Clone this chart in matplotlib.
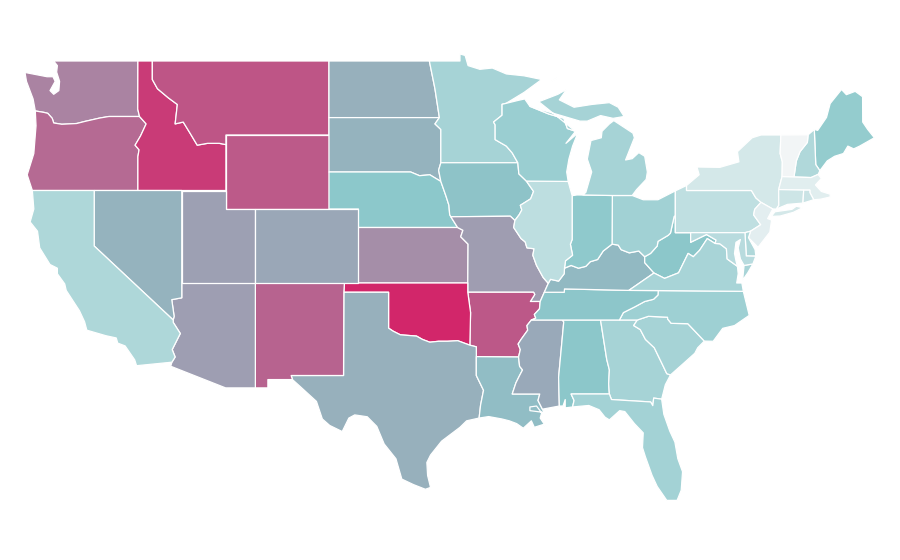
import matplotlib
matplotlib.use("Agg")
import matplotlib.pyplot as plt
from matplotlib.colors import LinearSegmentedColormap, Normalize

# ---- data: rate per state ----
states = ["WA","OR","ID","MT","WY","ND","SD","NE","KS","MN","IA","MO","AR","OK","TX","NM","AZ","UT","CO","NV","CA",
          "LA","MS","AL","GA","FL","SC","NC","TN","KY","WV","VA","OH","IN","IL","WI","MI","PA","NY","ME","NH","VT",
          "MA","CT","RI","NJ","DE","MD"]
values = [65.6,74.8,91.9,82.6,80.7,49,47.8,40,61.5,29.8,42,56,81.5,100,49,77,55.6,55,52,48,26.7,
          44,51.5,40.5,30,31,30,33,41,45.5,40.5,29,32,39,21,34.5,30,20,12,37,26,0,
          7,14.5,16,6,26,23]

# ---- boundaries (lon, lat), shared borders ----
stcroix = [(-92.02,46.71),(-92.29,46.66),(-92.29,46.07),(-92.87,45.70),(-92.76,45.55),(-92.76,44.75),(-92.0,44.40),(-91.6,44.03),(-91.22,43.50)]
ia_wi = [(-91.22,43.50),(-91.15,42.9),(-90.64,42.51)]
ia_il = [(-90.64,42.51),(-90.15,41.95),(-90.35,41.55),(-91.05,41.2),(-90.95,40.95),(-91.12,40.70),(-91.42,40.38)]
mo_il = [(-91.42,40.38),(-91.5,40.0),(-91.0,39.4),(-90.72,39.22),(-90.6,38.9),(-90.12,38.85),(-90.2,38.5),(-89.95,37.95),(-89.5,37.3),(-89.15,36.98)]
ar_east = [(-89.7,36.0),(-89.75,35.6),(-90.1,35.3),(-90.0,35.1),(-90.3,35.0)]
ar_ms = [(-90.3,35.0),(-90.6,34.7),(-90.55,34.45),(-91.0,33.95),(-91.2,33.7),(-91.05,33.4),(-91.17,33.0)]
la_ms = [(-91.17,33.0),(-91.1,32.5),(-90.9,32.3),(-91.1,32.0),(-91.35,31.6),(-91.6,31.0),(-89.73,31.0),(-89.85,30.65),(-89.55,30.18)]
boot = [(-89.42,36.5),(-89.7,36.0),(-90.37,36.0),(-90.07,36.38),(-90.15,36.5)]
il_ky = [(-89.15,36.98),(-89.0,37.2),(-88.45,37.1),(-88.07,37.5),(-88.05,37.8)]
in_ky = [(-88.05,37.8),(-87.6,37.95),(-87.1,37.8),(-86.6,37.9),(-86.3,38.15),(-85.8,38.27),(-85.42,38.73),(-84.82,39.1)]
oh_ky = [(-84.82,39.1),(-84.4,39.05),(-84.2,38.8),(-83.65,38.63),(-83.0,38.73),(-82.6,38.42)]
oh_wv = [(-82.6,38.42),(-82.2,38.6),(-81.75,39.0),(-81.7,39.25),(-81.0,39.58),(-80.85,39.7),(-80.6,40.6),(-80.52,40.64)]
il_in = [(-87.53,41.72),(-87.53,39.35),(-87.65,39.1),(-87.5,38.5),(-87.98,38.2),(-88.05,37.8)]
wa_or = [(-124.0,46.3),(-123.4,46.22),(-123.15,46.17),(-122.85,45.9),(-122.75,45.65),(-122.2,45.58),(-121.2,45.62),(-120.6,45.74),(-119.6,45.92),(-119.0,46.0),(-116.92,46.0)]
id_or = [(-116.92,46.0),(-116.47,45.6),(-116.85,44.95),(-117.22,44.45),(-116.95,44.2),(-117.03,43.83),(-117.03,42)]
id_mt = [(-116.05,49),(-116.05,48.0),(-115.7,47.5),(-114.95,47.0),(-114.35,46.65),(-114.5,45.6),(-113.95,45.7),(-113.45,45.05),(-113.0,44.45),(-112.3,44.55),(-111.5,44.55),(-111.05,44.48)]
ok_tx = [(-100,34.56),(-99.7,34.4),(-99.2,34.2),(-98.1,34.13),(-97.7,33.95),(-97.2,33.8),(-96.6,33.85),(-96.0,33.85),(-95.3,33.88),(-94.48,33.64)]
la_tx = [(-94.04,33.02),(-94.04,32),(-93.55,31.2),(-93.75,30.4),(-93.85,29.7)]
ne_ia = [(-96.45,42.49),(-96.1,41.7),(-95.9,41.2),(-95.85,40.7),(-95.77,40.58)]
ne_mo_ks = [(-95.77,40.58),(-95.31,40),(-94.95,39.85),(-95.1,39.5),(-94.6,39.1),(-94.62,37)]
sd_mn = [(-96.55,45.94),(-96.85,45.6),(-96.45,45.3),(-96.45,43.5)]
ga_sc = [(-83.1,35),(-83.35,34.7),(-82.9,34.48),(-82.55,33.95),(-81.95,33.5),(-81.4,32.6),(-81.1,32.1),(-80.85,32.03)]
nc_sc = [(-83.1,35),(-82.35,35.2),(-81.05,35.15),(-81.04,35.05),(-80.8,34.82),(-79.67,34.8),(-78.55,33.86)]
nc_tn = [(-81.68,36.59),(-81.7,36.35),(-82.0,36.12),(-82.6,36.0),(-83.25,35.72),(-84.05,35.4),(-84.32,35)]
ga_al = [(-85.6,35),(-85.18,32.87),(-85.0,32.3),(-85.05,31.55),(-85.0,31)]
ga_fl = [(-85.0,31),(-84.86,30.7),(-82.2,30.57),(-82.05,30.37),(-81.99,30.78),(-81.45,30.72)]
wv_va = [(-81.97,37.54),(-81.25,37.25),(-80.3,37.55),(-79.65,38.6),(-79.3,38.42),(-78.87,38.77),(-78.35,39.4),(-77.83,39.14)]
md_wv = [(-77.83,39.14),(-77.75,39.32),(-78.4,39.62),(-79.48,39.2),(-79.48,39.72)]
md_va = [(-76.3,37.9),(-77.0,38.3),(-77.05,38.85),(-77.5,39.12),(-77.83,39.14)]
pa_nj = [(-74.7,41.36),(-75.13,40.98),(-75.2,40.68),(-74.72,40.15),(-75.41,39.8)]
ny_pa = [(-79.76,42),(-75.35,42),(-75.05,41.6),(-74.7,41.36)]
vt_nh = [(-71.5,45.01),(-71.55,44.6),(-72.05,44.1),(-72.3,43.6),(-72.46,42.73)]
ny_vt = [(-73.35,45.0),(-73.4,44.0),(-73.25,43.55),(-73.27,42.75)]
mi_wi = [(-90.4,46.55),(-89.1,46.13),(-88.1,45.9),(-87.85,45.35),(-87.3,45.2)]
rev = lambda s: s[::-1]

shapes = {
 "WA": [[(-117.03,49),(-122.75,49),(-122.5,48.75),(-122.55,48.4),(-122.35,47.9),(-122.4,47.4),(-122.75,47.2),(-123.0,47.4),(-122.65,47.9),(-122.8,48.15),(-123.2,48.15),(-124.7,48.38),(-124.6,47.9),(-124.15,46.95)]+wa_or+[(-117.04,46.4)]],
 "OR": [wa_or+id_or[1:]+[(-124.2,42),(-124.55,42.85),(-124.1,44),(-123.95,45.5)]],
 "ID": [[(-117.03,49)]+id_mt+[(-111.05,42)]+rev(id_or)+[(-117.04,46.4)]],
 "MT": [id_mt+[(-111.05,45),(-104.05,45),(-104.05,49)]],
 "WY": [[(-111.05,45),(-104.05,45),(-104.05,41),(-111.05,41)]],
 "ND": [[(-104.05,49),(-97.23,49),(-96.85,47.5),(-96.55,45.94),(-104.05,45.94)]],
 "SD": [[(-104.05,45.94)]+sd_mn+[(-96.6,43.1),(-96.45,42.49),(-97.2,42.85),(-97.9,42.8),(-98.5,43),(-104.05,43)]],
 "NE": [[(-104.05,43),(-98.5,43),(-97.9,42.8),(-97.2,42.85)]+ne_ia+[(-95.31,40),(-102.05,40),(-102.05,41),(-104.05,41)]],
 "KS": [[(-102.05,40)]+ne_mo_ks[1:]+[(-102.05,37)]],
 "MN": [[(-97.23,49),(-95.15,49),(-95.15,49.38),(-94.8,49.3),(-94.6,48.75),(-93.8,48.55),(-92.95,48.62),(-92.0,48.3),(-90.8,48.2),(-89.6,48.0),(-90.8,47.3)]+stcroix+rev(sd_mn)+[(-96.85,47.5)]],
 "IA": [[(-96.45,43.5)]+ia_wi+ia_il[1:]+[(-91.73,40.61)]+rev(ne_ia)+[(-96.6,43.1)]],
 "WI": [[(-92.02,46.71),(-91.2,46.87),(-90.75,46.95)]+mi_wi+[(-87.95,44.55),(-87.15,45.1),(-87.5,44.4),(-87.75,43.7),(-87.9,43.0),(-87.8,42.49)]+rev(ia_wi)+rev(stcroix)],
 "IL": [[(-90.64,42.51),(-87.8,42.49)]+il_in+rev(il_ky)[1:]+rev(mo_il)[1:]+rev(ia_il)[1:]],
 "MO": [[(-95.77,40.58),(-91.73,40.61)]+mo_il+boot+[(-94.62,36.5)]+rev(ne_mo_ks)[:-1]],
 "AR": [[(-94.62,36.5)]+rev(boot)[:-1]+ar_east[1:]+ar_ms[1:]+[(-94.04,33.02),(-94.04,33.55),(-94.48,33.64),(-94.43,35.4)]],
 "OK": [[(-103.0,37),(-94.62,37),(-94.62,36.5),(-94.43,35.4)]+rev(ok_tx)+[(-100,36.5),(-103.04,36.5)]],
 "TX": [[(-103.04,36.5),(-100,36.5)]+ok_tx+[(-94.04,33.55)]+la_tx+[(-94.7,29.55),(-95.15,29.2),(-96.4,28.45),(-97.15,27.7),(-97.4,27.3),(-97.35,26.6),(-97.15,25.95),(-97.5,25.85),(-98.3,26.1),(-99.1,26.4),(-99.5,27.5),(-100.3,28.3),(-100.8,29.25),(-101.45,29.77),(-102.3,29.87),(-102.7,29.7),(-103.15,28.97),(-104.0,29.3),(-104.5,29.65),(-104.9,30.6),(-106.0,31.4),(-106.53,31.78),(-106.62,32),(-103.06,32)]],
 "NM": [[(-109.05,37),(-103,37),(-103.04,36.5),(-103.06,32),(-106.62,32),(-106.53,31.78),(-108.2,31.78),(-108.2,31.33),(-109.05,31.33)]],
 "AZ": [[(-114.05,37),(-109.05,37),(-109.05,31.33),(-111.07,31.33),(-114.8,32.5),(-114.72,32.72),(-114.5,33.0),(-114.7,33.4),(-114.15,34.27),(-114.63,34.87),(-114.63,35.0),(-114.57,35.2),(-114.73,36.1),(-114.05,36.2)]],
 "NV": [[(-120,42),(-114.05,42),(-114.05,36.2),(-114.73,36.1),(-114.57,35.2),(-114.63,35.0),(-120,39)]],
 "UT": [[(-114.05,42),(-111.05,42),(-111.05,41),(-109.05,41),(-109.05,37),(-114.05,37)]],
 "CO": [[(-109.05,41),(-102.05,41),(-102.05,37),(-109.05,37)]],
 "CA": [[(-124.2,42),(-120,42),(-120,39),(-114.63,35),(-114.63,34.87),(-114.15,34.27),(-114.7,33.4),(-114.5,33),(-114.72,32.72),(-117.12,32.53),(-117.25,32.85),(-117.9,33.6),(-118.4,33.75),(-118.5,34.03),(-119.2,34.15),(-120.5,34.45),(-120.65,34.9),(-121.0,35.5),(-121.9,36.6),(-122.0,36.95),(-122.5,37.5),(-122.5,37.8),(-123.0,38.0),(-123.7,38.9),(-123.85,39.8),(-124.35,40.3),(-124.1,41)]],
 "LA": [la_ms+[(-89.45,30.0),(-89.9,30.05),(-90.4,30.1),(-90.4,30.3),(-89.95,30.35),(-89.6,29.98),(-89.7,29.7),(-89.2,29.1),(-89.5,29.35),(-90.1,29.2),(-90.3,29.55),(-90.85,29.15),(-91.3,29.4),(-91.8,29.55),(-92.3,29.65),(-93.2,29.78),(-93.85,29.7),(-93.75,30.4),(-93.55,31.2),(-94.04,32),(-94.04,33.02)]],
 "MS": [ar_ms+la_ms[1:]+[(-88.4,30.35),(-88.45,31.9),(-88.1,34.9),(-88.2,35)]],
 "AL": [[(-88.2,35)]+ga_al+[(-87.6,31),(-87.4,30.65),(-87.5,30.3),(-88.0,30.25),(-88.0,30.7),(-88.15,30.35),(-88.4,30.35),(-88.45,31.9),(-88.1,34.9)]],
 "GA": [ga_al+ga_fl[1:]+[(-81.2,31.5)]+rev(ga_sc)],
 "FL": [[(-87.6,31)]+ga_fl+[(-81.3,29.9),(-80.9,29.0),(-80.55,28.4),(-80.35,27.5),(-80.03,26.8),(-80.12,25.8),(-80.4,25.25),(-81.1,25.25),(-81.75,26.0),(-82.1,26.6),(-82.55,27.6),(-82.75,28.1),(-82.7,28.9),(-83.3,29.4),(-83.95,30.05),(-84.3,30.1),(-85.0,29.6),(-85.3,29.75),(-85.7,30.15),(-86.4,30.38),(-87.5,30.3),(-87.4,30.65)]],
 "SC": [nc_sc+[(-79.0,33.5),(-79.2,33.2),(-79.9,32.7)]+rev(ga_sc)],
 "NC": [nc_tn+[(-83.1,35)]+nc_sc[1:]+[(-77.95,33.85),(-77.3,34.55),(-76.5,34.7),(-75.5,35.25),(-75.9,36.55)]],
 "TN": [[(-89.42,36.5),(-88.07,36.5),(-88.05,36.68),(-83.68,36.6)]+nc_tn+[(-85.6,35),(-88.2,35)]+rev(ar_east)],
 "KY": [il_ky+in_ky[1:]+oh_ky[1:]+[(-82.6,38.1),(-81.97,37.54),(-83.68,36.6),(-88.05,36.68),(-88.07,36.5),(-89.42,36.5)]],
 "VA": [[(-83.68,36.6),(-81.68,36.59),(-75.9,36.55),(-76.0,37.0),(-76.35,37.0),(-76.25,37.5)]+md_va+rev(wv_va)[1:],
        [(-75.95,37.15),(-75.85,37.95),(-75.25,38.03),(-75.6,37.55)]],
 "WV": [oh_wv+[(-80.52,39.72),(-79.48,39.72)]+rev(md_wv)[1:]+rev(wv_va)[1:]+[(-82.6,38.1)]],
 "MD": [[(-79.48,39.72),(-75.79,39.72),(-75.7,38.46),(-75.05,38.45),(-75.25,38.03),(-75.85,37.95),(-76.1,38.3),(-76.25,38.9),(-76.1,39.35),(-76.4,39.2),(-76.5,38.6),(-76.4,38.2)]+md_va+md_wv[1:-1]],
 "DE": [[(-75.79,39.72),(-75.41,39.8),(-75.55,39.45),(-75.1,38.8),(-75.05,38.45),(-75.7,38.46)]],
 "PA": [[(-80.52,41.98),(-79.76,42.27)]+ny_pa+pa_nj[1:]+[(-75.79,39.72),(-80.52,39.72)]],
 "NJ": [pa_nj+[(-75.55,39.45),(-74.9,38.93),(-74.1,39.75),(-73.98,40.4),(-74.25,40.48),(-73.9,41.0)]],
 "NY": [ny_pa[::-1][:-1]+[(-79.76,42),(-79.76,42.27),(-78.9,42.85),(-79.05,43.27),(-77.5,43.25),(-76.2,43.55),(-76.3,44.1),(-75.3,44.85),(-74.7,45.0)]+ny_vt+[(-73.5,42.05),(-73.49,41.2),(-73.65,41.0),(-73.9,41.0)],
        [(-74.0,40.6),(-73.75,40.85),(-72.6,40.98),(-72.3,41.15),(-71.87,41.07),(-72.5,40.82),(-73.4,40.62)]],
 "VT": [ny_vt+rev(vt_nh)],
 "NH": [vt_nh+[(-71.3,42.7),(-70.82,42.87),(-70.7,43.07),(-70.98,43.4),(-71.08,45.3)]],
 "ME": [[(-71.08,45.3),(-70.85,45.25),(-70.25,45.95),(-70.0,46.7),(-69.23,47.46),(-68.9,47.18),(-68.3,47.36),(-67.8,47.07),(-67.79,45.7),(-67.45,45.3),(-67.0,44.85),(-68.0,44.4),(-68.4,44.25),(-68.8,44.4),(-69.1,44.0),(-69.7,43.85),(-70.2,43.6),(-70.7,43.07),(-70.98,43.4)]],
 "MA": [[(-73.5,42.05),(-73.27,42.75),(-72.46,42.73),(-71.3,42.7),(-70.82,42.87),(-70.6,42.65),(-71.0,42.3),(-70.6,41.95),(-70.0,41.8),(-70.0,41.65),(-70.65,41.53),(-71.12,41.5),(-71.38,41.89),(-71.38,42.02),(-71.8,42.02)]],
 "CT": [[(-73.5,42.05),(-71.8,42.02),(-71.85,41.32),(-72.9,41.25),(-73.65,41.0),(-73.49,41.2)]],
 "RI": [[(-71.8,42.02),(-71.38,42.02),(-71.38,41.89),(-71.12,41.5),(-71.85,41.32)]],
 "MI": [[(-86.8,41.76),(-84.8,41.73),(-83.45,41.73),(-83.15,42.05),(-82.5,42.6),(-82.42,43.0),(-82.6,43.85),(-83.0,44.05),(-83.45,43.72),(-83.9,43.65),(-83.3,44.85),(-83.4,45.1),(-84.7,45.78),(-85.0,45.6),(-85.5,45.2),(-85.55,44.85),(-86.25,44.7),(-86.5,43.7),(-86.2,43.0),(-86.6,41.9)],
        mi_wi[::-1]+[(-87.0,45.75),(-86.5,45.75),(-85.6,46.05),(-84.75,45.9),(-84.0,46.0),(-84.4,46.5),(-85.0,46.75),(-86.2,46.65),(-87.4,46.5),(-88.4,46.9),(-87.9,47.47),(-88.5,47.2),(-89.8,46.8)],
        [(-88.95,47.9),(-88.45,48.15),(-88.6,48.0)]],
 "OH": [[(-84.8,41.73),(-83.45,41.73),(-82.7,41.5),(-81.7,41.5),(-80.52,41.98)]+rev(oh_wv)+rev(oh_ky)[1:]],
 "IN": [[(-87.53,41.72),(-87.2,41.76),(-84.8,41.73)]+rev(in_ky)+rev(il_in)[1:]],
}

# ---- scale: pale grey through teal to crimson ----
cmap = LinearSegmentedColormap.from_list("rate", [(0, "#f2f5f6"), (0.4, "#8cc8cb"), (1, "#d2266a")])
norm = Normalize(0, 100)

fig = plt.figure(figsize=(9, 5.6), dpi=100)
ax = fig.add_axes([0, 0, 1, 1])
for st, val in zip(states, values):
    for ring in shapes[st]:
        ax.fill(*zip(*ring), facecolor=cmap(norm(val)), edgecolor="white", linewidth=0.9, joinstyle="round")

# linear lon/lat frame, 14.72 px per degree across and 18.5 px per degree down
ax.set_xlim(-124.7 - 25 / 14.72, -124.7 + 875 / 14.72)
ax.set_ylim(49 - 499 / 18.5, 49 + 61 / 18.5)
ax.axis("off")
fig.savefig("out.png", dpi=100, facecolor="white")
